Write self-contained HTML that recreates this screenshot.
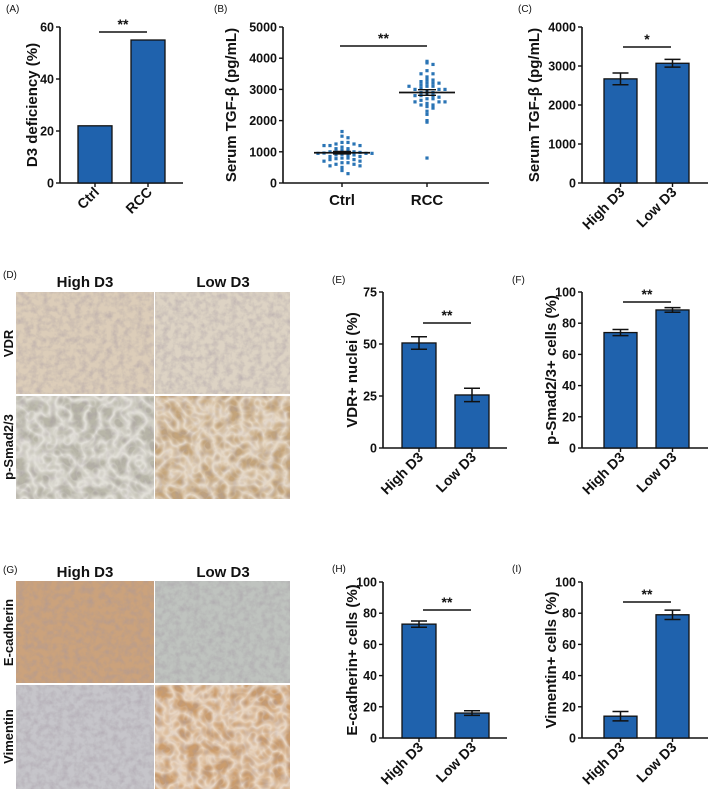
<!DOCTYPE html>
<html><head><meta charset="utf-8"><style>
body{margin:0;background:#fff}
svg{display:block}
text{font-family:"Liberation Sans",Arial,sans-serif;font-weight:bold;fill:#111}
.tk{font-family:"Liberation Sans Narrow","Liberation Sans",sans-serif;font-size:12.5px}
.pl{font-weight:normal;font-size:10px}
</style></head><body>
<svg id="fig" width="709" height="796" viewBox="0 0 709 796" xmlns="http://www.w3.org/2000/svg">
<defs>
<filter id="nz" x="0" y="0" width="100%" height="100%">
<feTurbulence type="fractalNoise" baseFrequency="0.16" numOctaves="3" seed="4"/>
<feColorMatrix type="matrix" values="0 0 0 0 0.35  0 0 0 0 0.3  0 0 0 0 0.35  0 0 0 -1.6 1.0"/>
</filter>
<filter id="nz2" x="0" y="0" width="100%" height="100%">
<feTurbulence type="turbulence" baseFrequency="0.07" numOctaves="2" seed="9"/>
<feColorMatrix type="matrix" values="0 0 0 0 1  0 0 0 0 0.98  0 0 0 0 0.95  0 0 0 -2.2 1.1"/>
</filter>
</defs>
</svg>
<script>
// ---- chart data ----
const catsA = ['Ctrl', 'RCC'];
const valsA = [22, 55];
const ticksA = [0, 20, 40, 60];

const catsB = ['Ctrl', 'RCC'];
const ctrlB = [1650,1500,1450,1300,1300,1250,1250,1200,1200,1200,1150,1100,1100,1050,1050,1000,1000,1000,980,960,950,950,950,920,900,900,900,850,850,800,800,780,750,750,700,700,650,650,600,600,550,550,500,400,300];
const rccB = [3900,3850,3800,3600,3500,3500,3400,3300,3300,3250,3200,3200,3150,3100,3100,3050,3000,3000,2950,2900,2900,2850,2800,2800,2750,2700,2700,2650,2600,2600,2550,2500,2500,2450,2400,2300,2200,2000,1950,800,3000,3100,2800,3200,2600];
const meanB = [970, 2900];
const semB = [40, 90];
const ticksB = [0, 1000, 2000, 3000, 4000, 5000];

const catsD3 = ['High D3', 'Low D3'];
const valsC = [2670, 3070];
const errC = [150, 100];
const ticksC = [0, 1000, 2000, 3000, 4000];

const valsE = [50.5, 25.5];
const errE = [3, 3.2];
const ticksE = [0, 25, 50, 75];

const valsF = [74, 88.5];
const errF = [2, 1.5];
const ticksF = [0, 20, 40, 60, 80, 100];

const valsH = [73, 16];
const errH = [2, 1.5];
const ticksH = [0, 20, 40, 60, 80, 100];

const valsI = [14, 79];
const errI = [3, 3];
const ticksI = [0, 20, 40, 60, 80, 100];

const NS = 'http://www.w3.org/2000/svg';
const svg = document.getElementById('fig');
function el(tag, attrs, parent, txt){
  const e = document.createElementNS(NS, tag);
  for (const k in attrs) e.setAttribute(k, attrs[k]);
  if (txt !== undefined) e.textContent = txt;
  (parent || svg).appendChild(e);
  return e;
}
const BLUE = '#1f62ad';

function axes(g, o, ticks, cats, xs, rotated){
  const y = v => o.y0 - (v - ticks[0]) / (ticks[ticks.length-1] - ticks[0]) * (o.y0 - o.yTop);
  const ax = el('line', {x1:o.ax, y1:o.yTop, x2:o.ax, y2:o.y0, stroke:'#111','stroke-width':1.6}, g);
  
  
  const bx = el('line', {x1:o.ax, y1:o.y0, x2:o.xEnd, y2:o.y0, stroke:'#111','stroke-width':1.6}, g);
  
  
  ticks.forEach(t => {
    el('line', {x1:o.ax-4, y1:y(t), x2:o.ax, y2:y(t), stroke:'#111','stroke-width':1.4}, g);
    const tl = el('text', {x:o.ax-6, y:y(t)+4.5, 'text-anchor':'end', class:'tk'}, g, String(t));
    
    
  });
  cats.forEach((c, i) => {
    el('line', {x1:xs[i], y1:o.y0, x2:xs[i], y2:o.y0+4, stroke:'#111','stroke-width':1.4}, g);
    let t;
    if (rotated) {
      t = el('text', {x:xs[i]+5, y:o.y0+10, 'text-anchor':'end', class:'tk', style:'font-size:14px',
        transform:`rotate(-45 ${xs[i]+5} ${o.y0+10})`}, g, c);
    } else {
      t = el('text', {x:xs[i], y:o.y0+22, 'text-anchor':'middle', style:'font-size:15px;font-family:"Liberation Sans Narrow","Liberation Sans",sans-serif'}, g, c);
    }
    
    
  });
  const tt = el('text', {x:o.tx, y:(o.y0+o.yTop)/2, 'text-anchor':'middle', style:'font-size:15px',
    transform:`rotate(-90 ${o.tx} ${(o.y0+o.yTop)/2})`}, g, o.title);
  
  
  return y;
}
function sig(g, x1, x2, yy, stars){
  const l = el('line', {x1:x1, y1:yy, x2:x2, y2:yy, stroke:'#111','stroke-width':1.4}, g);
  
  
  const s = el('text', {x:(x1+x2)/2, y:yy-3, 'text-anchor':'middle', style:'font-size:14px'}, g, stars);
  
  
}
function label(x, y, t){
  const e = el('text', {x:x, y:y, class:'pl'}, svg, t);
  
  
}
function barPanel(name, o, ticks, cats, vals, errs, barX, bw, rotated){
  const g = el('g', {}, svg);
  
  
  const xs = barX.map(x => x + bw/2);
  const y = axes(g, o, ticks, cats, xs, rotated);
  vals.forEach((v, i) => {
    const r = el('rect', {x:barX[i], y:y(v), width:bw, height:o.y0 - y(v), fill:BLUE, stroke:'#111','stroke-width':1.3}, g);
    
    
    if (errs) {
      const e = errs[i];
      const p = el('path', {d:`M${xs[i]} ${y(v+e)}V${y(v-e)}M${xs[i]-8} ${y(v+e)}H${xs[i]+8}M${xs[i]-8} ${y(v-e)}H${xs[i]+8}`, stroke:'#111','stroke-width':1.5, fill:'none'}, g);
      
      
    }
  });
  return g;
}

// Panel A
label(6, 12, '(A)');
const gA = barPanel('panel-a-chart', {ax:60, y0:183, yTop:27, xEnd:183, tx:37, title:'D3 deficiency (%)'}, ticksA, catsA, valsA, null, [78,131], 34, true);
sig(gA, 99, 147, 32, '**');

// Panel B (scatter)
label(214, 12, '(B)');
const gB = el('g', {}, svg);


const xsB = [342, 427];
const oB = {ax:283, y0:183, yTop:27, xEnd:489, tx:236, title:'Serum TGF-\u03b2  (pg/mL)'};
const yB = axes(gB, oB, ticksB, catsB, xsB, false);
[ctrlB, rccB].forEach((arr, i) => {
  const bins = {};
  arr.forEach(v => {
    const b = Math.round(yB(v) / 4);
    const n = bins[b] || 0; bins[b] = n + 1;
    const off = (n % 2 ? 1 : -1) * Math.ceil(n / 2) * 6;
    const d = el('rect', {x:xsB[i] + off - 1.6, y:yB(v) - 1.6, width:3.2, height:3.2, fill:'#2a74b5'}, gB);
    
    
  });
  const m = el('line', {x1:xsB[i]-28, y1:yB(meanB[i]), x2:xsB[i]+28, y2:yB(meanB[i]), stroke:'#111','stroke-width':1.8}, gB);
  
  
  const s = el('path', {d:`M${xsB[i]} ${yB(meanB[i]+semB[i])}V${yB(meanB[i]-semB[i])}M${xsB[i]-9} ${yB(meanB[i]+semB[i])}H${xsB[i]+9}M${xsB[i]-9} ${yB(meanB[i]-semB[i])}H${xsB[i]+9}`, stroke:'#111','stroke-width':1.4, fill:'none'}, gB);
  
  
});
sig(gB, 340, 427, 46, '**');

// Panel C
label(518, 12, '(C)');
const gC = barPanel('panel-c-chart', {ax:582, y0:183, yTop:27, xEnd:708, tx:539, title:'Serum TGF-\u03b2 (pg/mL)'}, ticksC, catsD3, valsC, errC, [604,656], 33, true);
sig(gC, 623, 671, 47, '*');

// Panel E
label(332, 283, '(E)');
const gE = barPanel('panel-e-chart', {ax:383, y0:448, yTop:292, xEnd:507, tx:357, title:'VDR+ nuclei (%)'}, ticksE, catsD3, valsE, errE, [402,455], 34, true);
sig(gE, 423, 471, 323, '**');

// Panel F
label(512, 283, '(F)');
const gF = barPanel('panel-f-chart', {ax:582, y0:448, yTop:292, xEnd:708, tx:556, title:'p-Smad2/3+ cells (%)'}, ticksF, catsD3, valsF, errF, [604,656], 33, true);
sig(gF, 623, 671, 302, '**');

// Panel H
label(332, 572, '(H)');
const gH = barPanel('panel-h-chart', {ax:383, y0:738, yTop:582, xEnd:507, tx:357, title:'E-cadherin+ cells (%)'}, ticksH, catsD3, valsH, errH, [402,455], 34, true);
sig(gH, 423, 471, 610, '**');

// Panel I
label(512, 572, '(I)');
const gI = barPanel('panel-i-chart', {ax:582, y0:738, yTop:582, xEnd:708, tx:556, title:'Vimentin+ cells (%)'}, ticksI, catsD3, valsI, errI, [604,656], 33, true);
sig(gI, 623, 671, 602, '**');

// Micrographs
function micro(name, x, y, w, h, base, streak){
  const g = el('g', {}, svg);
  
  
  el('rect', {x:x, y:y, width:w, height:h, fill:base}, g);
  el('rect', {x:x, y:y, width:w, height:h, filter:'url(#nz)', opacity:0.55}, g);
  if (streak) el('rect', {x:x, y:y, width:w, height:h, filter:'url(#nz2)', opacity:0.6}, g);
}
function imgGrid(prefix, y0, ym, y1, cols, hdrY, rowNames){
  const xs = [16, 155], ws = [138, 135];
  for (let r = 0; r < 2; r++) for (let c = 0; c < 2; c++) {
    const spec = cols[r][c];
    micro(prefix + '-' + rowNames[r].toLowerCase().replace(/[^a-z0-9]+/g,'-') + '-' + (c ? 'low' : 'high'),
      xs[c], r ? ym + 1 : y0, ws[c], r ? y1 - ym - 1 : ym - y0 - 1, spec[0], spec[1]);
  }
  ['High D3', 'Low D3'].forEach((t, c) => {
    const e = el('text', {x:[85,223][c], y:hdrY, 'text-anchor':'middle', style:'font-family:"Liberation Sans Narrow","Liberation Sans",sans-serif;font-size:15px'}, svg, t);
    
    
  });
  rowNames.forEach((t, r) => {
    const cy = r ? (ym + y1) / 2 : (y0 + ym) / 2;
    const e = el('text', {x:13, y:cy, 'text-anchor':'middle', style:'font-size:13px', transform:`rotate(-90 13 ${cy})`}, svg, t);
    
    
  });
}
label(3, 278, '(D)');
imgGrid('micrograph', 292, 395, 499, [[['#dccdb9',false],['#ddd3c4',false]],[['#b8b6a8',true],['#c4a47a',true]]], 287, ['VDR','p-Smad2/3']);
label(3, 573, '(G)');
imgGrid('micrograph-g', 581, 684, 789, [[['#cba27c',false],['#bfc3bf',false]],[['#c6c5ca',false],['#cb9c6c',true]]], 577, ['E-cadherin','Vimentin']);
</script>
</body></html>
